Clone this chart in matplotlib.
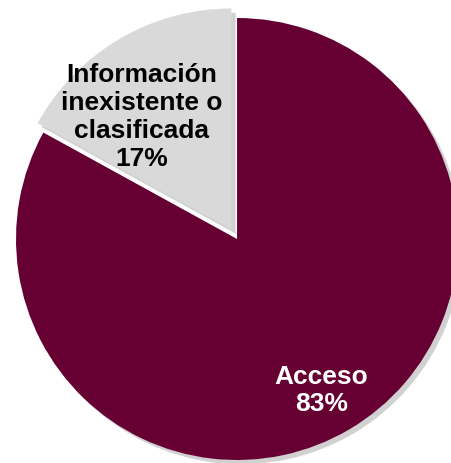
import matplotlib
matplotlib.use('Agg')
import matplotlib.pyplot as plt
import matplotlib.patheffects as pe
import numpy as np

plt.rcParams['font.family'] = ['Liberation Sans', 'DejaVu Sans']

labels = ['Acceso', 'Información\ninexistente o\nclasificada']
values = [83, 17]
colors = ['#660033', '#d9d9d9']
text_colors = ['white', 'black']
explode = [0, 0.05]
label_dist = [0.78, 0.66]
label_shift = [(-0.015, -0.01), (-0.07, -0.055)]

fig = plt.figure(figsize=(4.51, 4.64), dpi=100)
ax = fig.add_axes([0, 0, 1, 1])

wedges, _ = ax.pie(values, colors=colors, explode=explode, startangle=90,
                   counterclock=False, radius=1,
                   wedgeprops=dict(linewidth=0))

shadow = [pe.SimplePatchShadow(offset=(3, -3), shadow_rgbFace='#999999', alpha=0.45),
          pe.Normal()]
for w in wedges:
    w.set_path_effects(shadow)

for i, w in enumerate(wedges):
    ang = np.deg2rad((w.theta1 + w.theta2) / 2)
    cx, cy = w.center
    x = cx + label_dist[i] * np.cos(ang) + label_shift[i][0]
    y = cy + label_dist[i] * np.sin(ang) + label_shift[i][1]
    ax.text(x, y, f'{labels[i]}\n{values[i]}%', ha='center', va='center',
            fontsize=19, fontweight='bold', color=text_colors[i], linespacing=1.2)

ax.set_xlim(-1.0724, 0.968)
ax.set_ylim(-1.0136, 1.086)
ax.set_aspect('auto')
ax.axis('off')

fig.savefig('out.png', dpi=100)
